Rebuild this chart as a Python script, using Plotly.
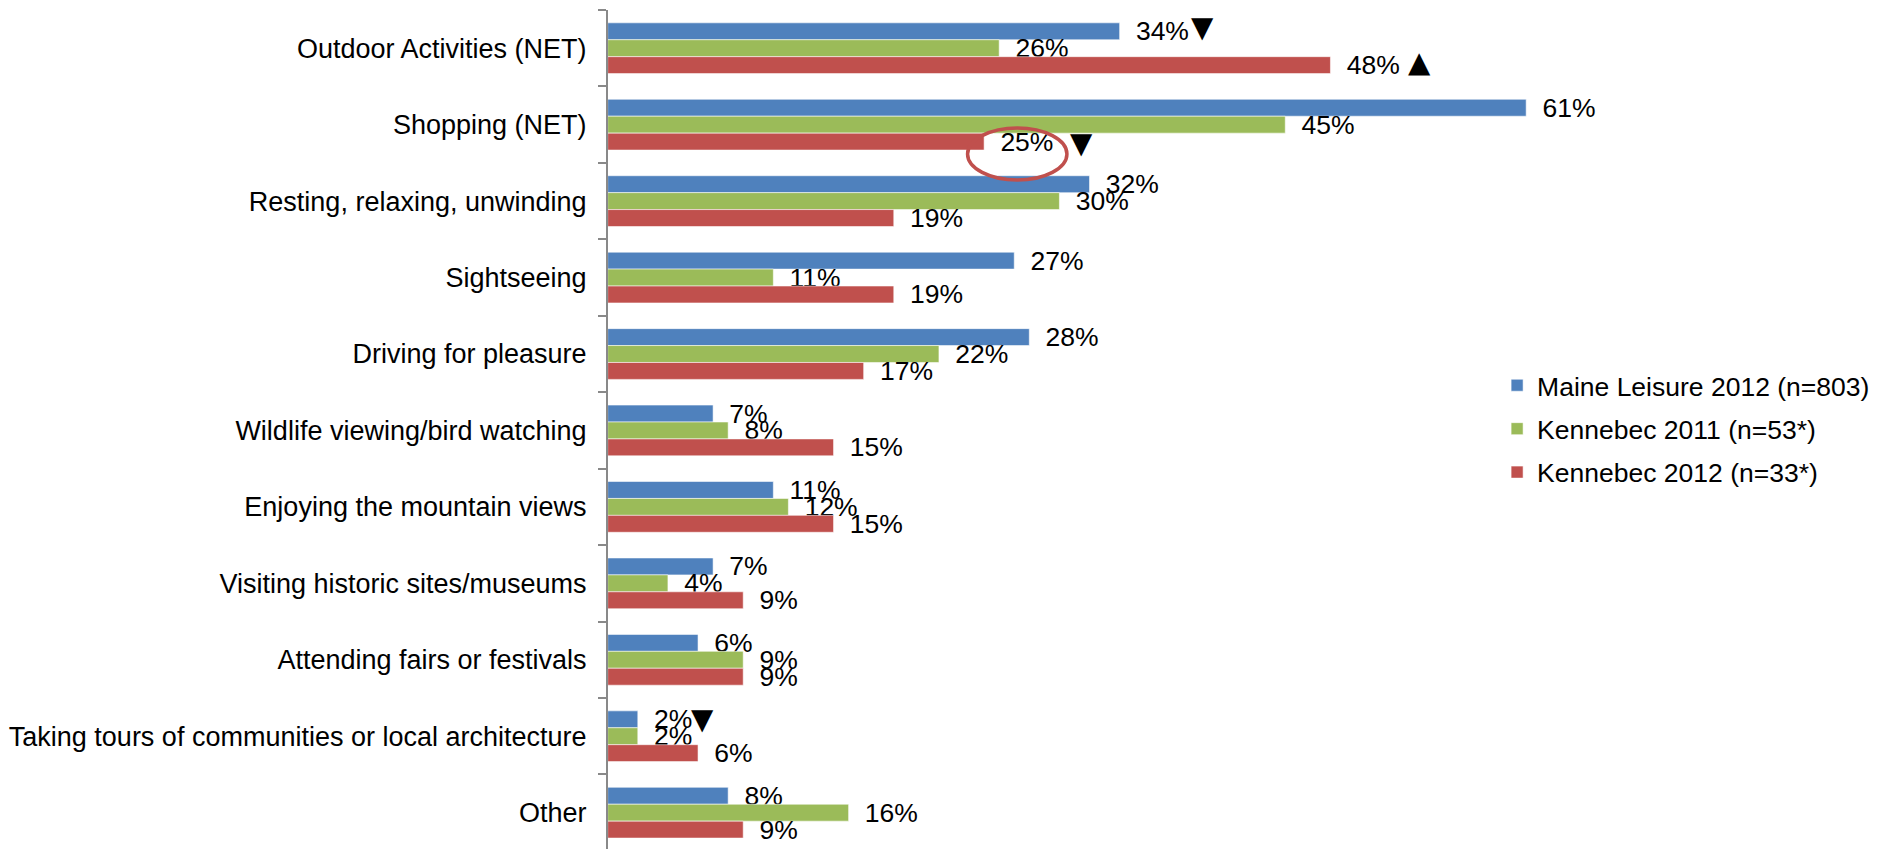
import plotly.graph_objects as go

# Leisure activities by survey group (percent of respondents)
categories = [
    "Outdoor Activities (NET)",
    "Shopping (NET)",
    "Resting, relaxing, unwinding",
    "Sightseeing",
    "Driving for pleasure",
    "Wildlife viewing/bird watching",
    "Enjoying the mountain views",
    "Visiting historic sites/museums",
    "Attending fairs or festivals",
    "Taking tours of communities or local architecture",
    "Other",
]
maine_2012 = [34, 61, 32, 27, 28, 7, 11, 7, 6, 2, 8]
kennebec_2011 = [26, 45, 30, 11, 22, 8, 12, 4, 9, 2, 16]
kennebec_2012 = [48, 25, 19, 19, 17, 15, 15, 9, 9, 6, 9]

series_names = [
    "Maine Leisure 2012 (n=803)",
    "Kennebec 2011 (n=53*)",
    "Kennebec 2012 (n=33*)",
]
series_colors = ["#4F81BD", "#9BBB59", "#C0504D"]

FONT = "Liberation Sans, Arial, sans-serif"
FONT_SIZE = 26.5
GAP = "\u2002"  # pushes the outside labels away from the bar end

fig = go.Figure()
for name, values, color in zip(series_names,
                               [maine_2012, kennebec_2011, kennebec_2012],
                               series_colors):
    fig.add_trace(go.Bar(
        y=categories,
        x=values,
        name=name,
        orientation='h',
        legendgroup=name,
        marker=dict(color=color, line=dict(color='rgba(255,255,255,0.55)', width=1)),
        text=[f"{GAP}{v}%" for v in values],
        textposition='outside',
        constraintext='none',
        cliponaxis=False,
        textfont=dict(family=FONT, size=FONT_SIZE, color='black'),
    ))

# significance markers next to some labels
arrows = [
    ("▼", 38.6, -0.284),
    ("▲", 53.0, 0.180),
    ("▼", 30.6, 1.240),
    ("▼", 5.4, 8.78),
]
for symbol, ax_x, ax_y in arrows:
    fig.add_annotation(
        x=ax_x, y=ax_y, xref='x', yref='y',
        text=symbol, showarrow=False,
        xanchor='left', yanchor='middle',
        font=dict(family="DejaVu Sans", size=29, color='black'),
    )

# red ring around the Shopping Kennebec 2012 label
fig.add_shape(
    type='circle', xref='x', yref='y',
    x0=23.9, x1=30.5, y0=1.043, y1=1.724,
    line=dict(color='#C0504D', width=3.5),
)

fig.update_layout(
    width=1877,
    height=849,
    margin=dict(l=0, r=0, t=10, b=0, pad=0),
    paper_bgcolor='white',
    plot_bgcolor='white',
    font=dict(family=FONT, size=FONT_SIZE, color='black'),
    barmode='group',
    bargap=0.336,
    bargroupgap=0,
    showlegend=True,
    legend=dict(
        x=0.7976, y=0.5006, xanchor='left', yanchor='middle',
        font=dict(family=FONT, size=FONT_SIZE, color='black'),
        tracegroupgap=6,
        bgcolor='rgba(0,0,0,0)',
    ),
)
fig.update_xaxes(
    domain=[607.7 / 1877, 1],
    range=[0, 84.3],
    showgrid=False, zeroline=False, showline=False,
    showticklabels=False, ticks='',
)
fig.update_yaxes(
    range=[10.475, -0.5],
    showline=True, linecolor='#898989', linewidth=1.5,
    ticks='outside', tickson='boundaries', ticklen=8,
    tickcolor='#898989', tickwidth=1.5,
    showgrid=False, zeroline=False,
    ticklabelstandoff=14,
    automargin=False,
    tickfont=dict(family=FONT, size=27, color='black'),
)

fig.write_html(
    "out.html",
    config={'displayModeBar': False},
    post_script="document.body.style.margin='0';document.body.style.overflow='hidden';",
)
